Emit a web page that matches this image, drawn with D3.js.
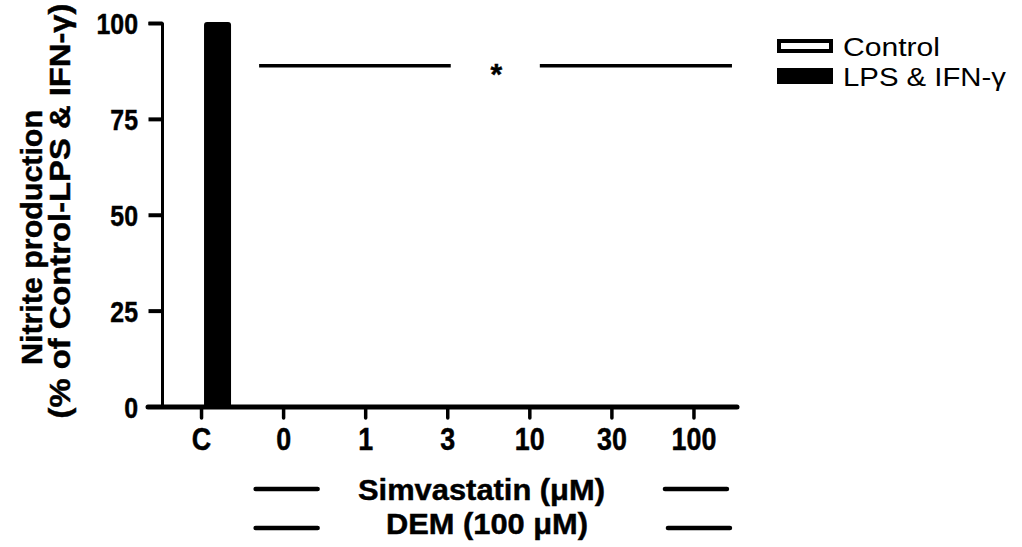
<!DOCTYPE html>
<html>
<head>
<meta charset="utf-8">
<script src="https://cdn.jsdelivr.net/npm/d3@7"></script>
<style>
  body { margin: 0; background: #fff; }
  svg { display: block; }
  text { font-family: "Liberation Sans", Arial, Helvetica, sans-serif; fill: #000; }
  text.heavy { stroke: #000; stroke-width: 0.45px; }
</style>
</head>
<body>
<svg id="chart" width="1022" height="547"></svg>
<script>
// ---- data ----
const categories = ["C", "0", "1", "3", "10", "30", "100"];
const controlValues = [0, 0, 0, 0, 0, 0, 0];
const lpsValues = [100, 0, 0, 0, 0, 0, 0];
const yTicks = [0, 25, 50, 75, 100];
const seriesNames = ["Control", "LPS & IFN-γ"];
const sigLevel = 89;
const sigMark = "*";
const treatmentLabels = ["Simvastatin (μM)", "DEM (100 μM)"];
const yTitle = ["Nitrite production", "(% of Control-LPS & IFN-γ)"];

// ---- layout ----
const svg = d3.select("#chart");
const y = d3.scaleLinear().domain([0, 100]).range([407, 23.5]);
const x = d3.scaleBand().domain(categories).range([160.5, 735]).padding(0);
const cx = c => x(c) + x.bandwidth() / 2;
const axisX = 162.5;

// text helper: fixed font size with a set rendered length
function label(g, str, opt) {
  const t = g.append("text")
    .attr("x", opt.x).attr("y", opt.y)
    .attr("font-size", opt.size)
    .attr("font-weight", opt.bold ? "bold" : "normal")
    .attr("text-anchor", opt.anchor || "start")
    .classed("heavy", !!opt.bold)
    .text(str);
  if (opt.len) t.attr("textLength", opt.len).attr("lengthAdjust", "spacingAndGlyphs");
  if (opt.rotate) t.attr("transform", `rotate(-90,${opt.x},${opt.y})`);
  return t;
}

// ---- bars ----
const rows = categories.map((c, i) => ({ c, control: controlValues[i], lps: lpsValues[i] }));
const bars = svg.append("g");
bars.selectAll("rect.control").data(rows.filter(d => d.control > 0)).join("rect")
  .attr("class", "control")
  .attr("x", d => cx(d.c) - 28).attr("width", 24)
  .attr("y", d => y(d.control)).attr("height", d => y(0) - y(d.control))
  .attr("fill", "#fff").attr("stroke", "#000").attr("stroke-width", 3);
bars.selectAll("rect.lps").data(rows.filter(d => d.lps > 0)).join("rect")
  .attr("class", "lps")
  .attr("x", d => cx(d.c) + 4).attr("width", 24)
  .attr("y", d => y(d.lps)).attr("height", d => y(0) - y(d.lps))
  .attr("rx", 1.5)
  .attr("fill", "#000").attr("stroke", "#000").attr("stroke-width", 3);

// ---- y axis ----
const yAxis = svg.append("g")
  .attr("transform", `translate(${axisX},0)`)
  .call(d3.axisLeft(y).tickValues(yTicks).tickSize(14).tickSizeOuter(14).offset(0));
yAxis.attr("font-family", null).attr("font-size", null);
yAxis.select(".domain").attr("stroke-width", 3).attr("stroke-linejoin", "round");
yAxis.selectAll(".tick line").attr("stroke-width", 4);
yAxis.selectAll(".tick text")
  .attr("font-size", 30).attr("font-weight", "bold")
  .classed("heavy", true)
  .attr("x", -24.5 / 0.83).attr("dy", "0.36em")
  .attr("transform", "scale(0.83,1)");

// ---- x axis ----
svg.append("line")
  .attr("x1", 148).attr("x2", x.range()[1] + 2)
  .attr("y1", y(0)).attr("y2", y(0))
  .attr("stroke", "#000").attr("stroke-width", 5).attr("stroke-linecap", "round");
const xAxis = svg.append("g")
  .attr("transform", `translate(0,${y(0)})`)
  .call(d3.axisBottom(x).tickSize(11).tickSizeOuter(0).offset(0));
xAxis.attr("font-family", null).attr("font-size", null);
xAxis.select(".domain").remove();
xAxis.selectAll(".tick line").attr("stroke-width", 3.5).attr("stroke-linecap", "round");
xAxis.selectAll(".tick text")
  .attr("font-size", 32).attr("font-weight", "bold")
  .classed("heavy", true)
  .attr("y", 43).attr("dy", 0)
  .attr("transform", "scale(0.84,1)");

// ---- significance line ----
const sig = svg.append("g");
const sy = y(sigLevel);
const segs = [[cx("0") - 24.5, cx("3") + 3], [cx("10") + 10, cx("100") + 38]];
sig.selectAll("line").data(segs).join("line")
  .attr("x1", d => d[0]).attr("x2", d => d[1])
  .attr("y1", sy).attr("y2", sy)
  .attr("stroke", "#000").attr("stroke-width", 3.5);
label(sig, sigMark, { x: (segs[0][1] + segs[1][0]) / 2 + 1, y: sy + 18, size: 30, bold: true, anchor: "middle" });

// ---- y title ----
const yt = svg.append("g");
label(yt, yTitle[0], { x: 42, y: 237.5, size: 30, bold: true, anchor: "middle", len: 255, rotate: true });
label(yt, yTitle[1], { x: 70, y: 211, size: 29, bold: true, anchor: "middle", len: 415, rotate: true });

// ---- treatment rows under the axis ----
const tr = svg.append("g");
const rowY = [489, 528];
const rowLines = [
  [[cx("0") - 28, cx("0") + 34], [cx("100") - 29, cx("100") + 33]],
  [[cx("0") - 28, cx("0") + 34], [cx("100") - 26, cx("100") + 36]]
];
rowY.forEach((ry, i) => {
  tr.selectAll(null).data(rowLines[i]).join("line")
    .attr("x1", d => d[0]).attr("x2", d => d[1])
    .attr("y1", ry).attr("y2", ry)
    .attr("stroke", "#000").attr("stroke-width", 4.5).attr("stroke-linecap", "round");
});
label(tr, treatmentLabels[0], { x: 481.5, y: 499.5, size: 29, bold: true, anchor: "middle", len: 247 });
label(tr, treatmentLabels[1], { x: 487, y: 533.5, size: 29, bold: true, anchor: "middle", len: 202 });

// ---- legend ----
const lg = svg.append("g");
const legendY = [46, 76];
lg.selectAll("rect").data(seriesNames).join("rect")
  .attr("x", 779).attr("width", 52)
  .attr("y", (d, i) => legendY[i] - (i === 0 ? 5 : 6))
  .attr("height", (d, i) => i === 0 ? 10 : 12)
  .attr("fill", (d, i) => i === 0 ? "#fff" : "#000")
  .attr("stroke", "#000").attr("stroke-width", 4);
seriesNames.forEach((n, i) => {
  label(lg, n, { x: 843, y: legendY[i] + 9.5, size: 26.5, len: i === 0 ? 97 : 163 });
});
</script>
</body>
</html>
